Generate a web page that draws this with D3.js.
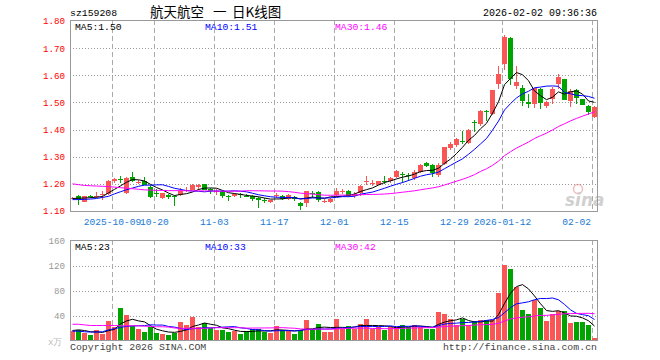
<!DOCTYPE html>
<html>
<head>
<meta charset="utf-8">
<script src="https://cdn.jsdelivr.net/npm/d3@7"></script>
<style>
  body { margin: 0; background: #fff; }
  text { font-family: "Liberation Mono", "DejaVu Sans Mono", monospace; }
</style>
</head>
<body>
<div id="kline"></div>
<script>
const code = "sz159208";
const titleParts = ["航天航空", "一", "日K线图"];
const stamp = "2026-02-02 09:36:36";

// daily bars, 2025-09-22 .. 2026-02-02 (88 trading days)
const open = [
  1.146,1.157,1.135,1.157,1.154,1.159,1.163,1.209,1.218,1.166,
  1.227,1.205,1.210,1.190,1.167,1.147,1.160,1.154,1.158,1.176,
  1.178,1.190,1.200,1.181,1.172,1.174,1.156,1.155,1.161,1.157,
  1.157,1.148,1.142,1.132,1.156,1.157,1.143,1.153,1.131,1.128,
  1.166,1.169,1.136,1.134,1.159,1.170,1.174,1.154,1.166,1.207,
  1.202,1.197,1.211,1.209,1.226,1.238,1.233,1.222,1.243,1.276,
  1.270,1.234,1.272,1.332,1.344,1.359,1.350,1.427,1.421,1.470,
  1.456,1.567,1.640,1.737,1.560,1.552,1.503,1.493,1.550,1.486,
  1.511,1.567,1.585,1.505,1.547,1.511,1.486,1.445];
const high = [
  1.152,1.158,1.156,1.159,1.170,1.172,1.214,1.222,1.228,1.225,
  1.243,1.213,1.227,1.195,1.180,1.168,1.162,1.158,1.184,1.188,
  1.200,1.198,1.201,1.183,1.180,1.176,1.158,1.166,1.166,1.163,
  1.160,1.150,1.147,1.141,1.165,1.159,1.161,1.155,1.133,1.175,
  1.172,1.172,1.146,1.149,1.183,1.180,1.176,1.171,1.197,1.230,
  1.215,1.212,1.230,1.226,1.250,1.242,1.240,1.250,1.273,1.279,
  1.272,1.276,1.337,1.356,1.370,1.394,1.401,1.437,1.473,1.472,
  1.547,1.636,1.750,1.740,1.634,1.565,1.530,1.555,1.553,1.507,
  1.557,1.603,1.588,1.550,1.549,1.514,1.490,1.488];
const low = [
  1.143,1.122,1.132,1.148,1.148,1.142,1.160,1.205,1.205,1.163,
  1.208,1.200,1.194,1.147,1.152,1.145,1.146,1.120,1.155,1.170,
  1.176,1.178,1.176,1.163,1.160,1.148,1.137,1.152,1.148,1.150,
  1.138,1.110,1.128,1.128,1.148,1.142,1.140,1.138,1.104,1.115,
  1.148,1.134,1.130,1.130,1.152,1.162,1.153,1.148,1.156,1.197,
  1.192,1.194,1.199,1.203,1.222,1.205,1.212,1.215,1.240,1.262,
  1.225,1.225,1.270,1.324,1.335,1.347,1.347,1.390,1.415,1.432,
  1.452,1.548,1.620,1.565,1.550,1.486,1.480,1.480,1.476,1.480,
  1.495,1.550,1.508,1.483,1.495,1.490,1.455,1.442];
const close = [
  1.149,1.145,1.154,1.151,1.156,1.161,1.212,1.219,1.215,1.222,
  1.211,1.208,1.197,1.153,1.164,1.166,1.150,1.152,1.173,1.178,
  1.197,1.196,1.178,1.175,1.174,1.156,1.154,1.163,1.159,1.155,
  1.144,1.141,1.140,1.139,1.158,1.145,1.159,1.144,1.118,1.172,
  1.164,1.141,1.138,1.146,1.175,1.173,1.156,1.162,1.193,1.210,
  1.204,1.209,1.209,1.223,1.246,1.236,1.231,1.243,1.270,1.265,
  1.240,1.270,1.334,1.347,1.367,1.356,1.398,1.424,1.470,1.467,
  1.544,1.606,1.740,1.585,1.575,1.505,1.495,1.552,1.497,1.502,
  1.551,1.592,1.510,1.541,1.518,1.492,1.466,1.484];
// volume, 万手
const volume = [
  15.2,16.8,11.5,8.8,16.8,10.4,31.2,22,52,40.8,
  23.7,18.4,14.1,22,12.5,10.4,8.8,11.5,29.6,24.8,
  37.1,21.1,27.5,19.5,16.8,16.8,14.1,15.2,9.9,15.2,
  18.4,18.4,14.1,11.5,23.2,16.8,15.2,9.9,16.8,32.8,
  18.4,25.9,13,14,33.9,18.4,23.2,18.4,26.4,33.9,
  18.4,22,16.8,22,22,24.8,22,24.8,22,18.4,
  18.4,45.6,42.4,33.9,24.8,33.9,24.8,31.7,32.8,32.8,
  32.8,76.5,121.3,114.4,86.1,48.8,42.4,64.8,52,31.7,
  42,48,47,28,29,29,25,4.5];

// moving averages before enough bars exist in the window
const ma5Head = [1.146, 1.147, 1.148, 1.149];
const ma10Head = [1.142, 1.142, 1.143, 1.144, 1.146, 1.150, 1.154, 1.163, 1.171];
const ma30Head = [1.200, 1.197, 1.194, 1.193, 1.192, 1.191, 1.190, 1.188, 1.186, 1.184,
  1.182, 1.180, 1.178, 1.177, 1.176, 1.176, 1.175, 1.175, 1.175, 1.175,
  1.174, 1.174, 1.174, 1.174, 1.173, 1.173, 1.173, 1.173, 1.173];
const vma5Head = [16, 17, 16, 14];
const vma10Head = [15, 15, 14, 13.5, 13.5, 14, 17, 19, 21];
const vma30Head = [26, 26, 25, 24, 24, 24, 24, 24, 23.5, 23.5,
  23.5, 23.5, 23, 22.5, 22, 22, 21.5, 20, 19.5, 19.5,
  19.5, 19.5, 19.5, 20, 20.5, 20.5, 20.5, 20.5, 20.5];

const tickIndex = [7, 14, 24, 34, 44, 54, 64, 72, 87];
const tickLabels = ["2025-10-09", "10-20", "11-03", "11-17", "12-01", "12-15", "12-29", "2026-01-12", "02-02"];
const priceTicks = [1.10, 1.20, 1.30, 1.40, 1.50, 1.60, 1.70, 1.80];
const volTicks = [40, 80, 120, 160];

const RED = "#fa5656", GREEN = "#00a400";
const maColors = ["#000000", "#0000ff", "#ff00ff"];

function movingAvg(values, n, head) {
  return values.map((v, i) => i < n - 1 ? head[i] : d3.mean(values.slice(i - n + 1, i + 1)));
}
function trunc(v, k) { const p = Math.pow(10, k); return (Math.floor(v * p + 1e-7) / p).toFixed(k); }

const ma = [movingAvg(close, 5, ma5Head), movingAvg(close, 10, ma10Head), movingAvg(close, 30, ma30Head)];
const vma = [movingAvg(volume, 5, vma5Head), movingAvg(volume, 10, vma10Head), movingAvg(volume, 30, vma30Head)];

const svg = d3.select("#kline").append("svg")
  .attr("width", 660).attr("height", 360);
svg.append("rect").attr("width", 660).attr("height", 360).attr("fill", "#fff");

const x = d3.scaleBand().domain(d3.range(close.length)).range([70, 598]);
const y = d3.scaleLinear().domain([1.10, 1.80]).range([211, 21]);
const yv = d3.scaleLinear().domain([0, 160]).range([340.5, 240.5]);

const defs = svg.append("defs");
defs.append("clipPath").attr("id", "clipP").append("rect").attr("x", 70).attr("y", 20).attr("width", 528).attr("height", 191);
defs.append("clipPath").attr("id", "clipV").append("rect").attr("x", 70).attr("y", 240).attr("width", 528).attr("height", 101);

// header
svg.append("text").attr("x", 70).attr("y", 16).attr("font-size", 9.8).attr("fill", "#000").text(code);
const ttl = svg.append("text").attr("y", 16.5).attr("font-size", 13.5)
  .style("font-family", "'Noto Sans CJK SC', sans-serif").attr("fill", "#000");
[150, 213, 232].forEach((px, k) => ttl.append("tspan").attr("x", px).text(titleParts[k]));
svg.append("text").attr("x", 597).attr("y", 16).attr("text-anchor", "end").attr("font-size", 10).attr("fill", "#000").text(stamp);

// grid
const grid = svg.append("g").attr("shape-rendering", "crispEdges");
grid.selectAll(".hp").data(priceTicks.slice(1, -1)).enter().append("line")
  .attr("x1", 70).attr("x2", 598)
  .attr("y1", d => Math.round(y(d)) + 0.5).attr("y2", d => Math.round(y(d)) + 0.5)
  .attr("stroke", "#999").attr("stroke-dasharray", "1,2");
grid.selectAll(".hv").data(volTicks.slice(0, -1)).enter().append("line")
  .attr("x1", 70).attr("x2", 598)
  .attr("y1", d => Math.round(yv(d)) + 0.5).attr("y2", d => Math.round(yv(d)) + 0.5)
  .attr("stroke", "#999").attr("stroke-dasharray", "1,2");
[[20, 211], [240, 341]].forEach(([y0, y1]) => {
  grid.selectAll(null).data(tickIndex).enter().append("line")
    .attr("x1", d => x(d) + 0.5).attr("x2", d => x(d) + 0.5)
    .attr("y1", y0).attr("y2", y1)
    .attr("stroke", "#aaa").attr("stroke-dasharray", "5,3");
});

// candles
const candles = svg.append("g").attr("clip-path", "url(#clipP)").attr("shape-rendering", "crispEdges");
const idx = d3.range(close.length);
const col = i => close[i] >= open[i] ? RED : GREEN;
candles.selectAll(".wick").data(idx).enter().append("line")
  .attr("x1", i => x(i) + 2.5).attr("x2", i => x(i) + 2.5)
  .attr("y1", i => y(high[i])).attr("y2", i => y(low[i]))
  .attr("stroke", col);
candles.selectAll(".body").data(idx).enter().append("rect")
  .attr("x", i => x(i)).attr("width", 5)
  .attr("y", i => y(Math.max(open[i], close[i])))
  .attr("height", i => Math.max(1, Math.abs(y(open[i]) - y(close[i]))))
  .attr("fill", col);

// volume bars
const vols = svg.append("g").attr("clip-path", "url(#clipV)").attr("shape-rendering", "crispEdges");
vols.selectAll("rect").data(idx).enter().append("rect")
  .attr("x", i => x(i)).attr("width", 5)
  .attr("y", i => yv(volume[i])).attr("height", i => yv(0) - yv(volume[i]))
  .attr("fill", col);

// moving average lines
const linePrice = d3.line().x((d, i) => x(i) + 2.5).y(d => y(d));
const lineVol = d3.line().x((d, i) => x(i) + 2.5).y(d => yv(d));
ma.forEach((s, k) => candles.append("path").datum(s).attr("d", linePrice)
  .attr("fill", "none").attr("stroke", maColors[k]).attr("stroke-width", 1).attr("shape-rendering", "auto"));
vma.forEach((s, k) => vols.append("path").datum(s).attr("d", lineVol)
  .attr("fill", "none").attr("stroke", maColors[k]).attr("stroke-width", 1).attr("shape-rendering", "auto"));

// watermark
const wm = svg.append("g").attr("opacity", 0.45);
wm.append("circle").attr("cx", 578).attr("cy", 189).attr("r", 4.5).attr("fill", "none").attr("stroke", "#e07070").attr("stroke-width", 1.5);
wm.append("text").attr("x", 565).attr("y", 206).attr("font-size", 17).attr("font-style", "italic").attr("font-weight", "bold")
  .style("font-family", "'DejaVu Sans', sans-serif").attr("fill", "#999").text("sina");

// frames
const frame = svg.append("g").attr("fill", "none").attr("stroke", "#999").attr("shape-rendering", "crispEdges");
frame.append("rect").attr("x", 70.5).attr("y", 20.5).attr("width", 527).attr("height", 190.5);
frame.append("rect").attr("x", 70.5).attr("y", 240.5).attr("width", 527).attr("height", 100);

// price axis
const axP = svg.append("g").attr("transform", "translate(70,0)")
  .call(d3.axisLeft(y).tickValues(priceTicks).tickFormat(d3.format(".2f")).tickSize(0).tickPadding(5));
axP.select(".domain").remove();
axP.selectAll("text").attr("fill", "#ff0000").attr("font-size", 9.2).style("font-family", "'Liberation Mono', monospace");

// volume axis
const axV = svg.append("g").attr("transform", "translate(70,0)")
  .call(d3.axisLeft(yv).tickValues(volTicks).tickSize(0).tickPadding(5));
axV.select(".domain").remove();
axV.selectAll("text").attr("fill", "#999").attr("font-size", 9.2).style("font-family", "'Liberation Mono', monospace");
svg.append("text").attr("x", 48).attr("y", 345).attr("font-size", 9).attr("fill", "#bbb").text("x万");

// date labels
svg.selectAll(".dl").data(tickIndex).enter().append("text")
  .attr("x", (d, k) => k === tickIndex.length - 1 ? 591 : x(d) + 0.5)
  .attr("y", 224.5)
  .attr("text-anchor", (d, k) => k === tickIndex.length - 1 ? "end" : "middle")
  .attr("font-size", 9.6).attr("fill", "#1a7ad6")
  .text((d, k) => tickLabels[k]);

// MA legends
const legX = [75, 205, 335];
["MA5", "MA10", "MA30"].forEach((name, k) => {
  svg.append("text").attr("x", legX[k]).attr("y", 29.5).attr("font-size", 9.7).attr("fill", maColors[k])
    .text(name + ":" + trunc(ma[k][ma[k].length - 1], 2));
  svg.append("text").attr("x", legX[k]).attr("y", 249.5).attr("font-size", 9.7).attr("fill", maColors[k])
    .text(name + ":" + trunc(vma[k][vma[k].length - 1], 0));
});

// footer
svg.append("text").attr("x", 70).attr("y", 349.5).attr("font-size", 9.9).attr("fill", "#444").text("Copyright 2026 SINA.COM");
svg.append("text").attr("x", 597).attr("y", 349.5).attr("text-anchor", "end").attr("font-size", 9.9).attr("fill", "#444").text("http://finance.sina.com.cn");
</script>
</body>
</html>
